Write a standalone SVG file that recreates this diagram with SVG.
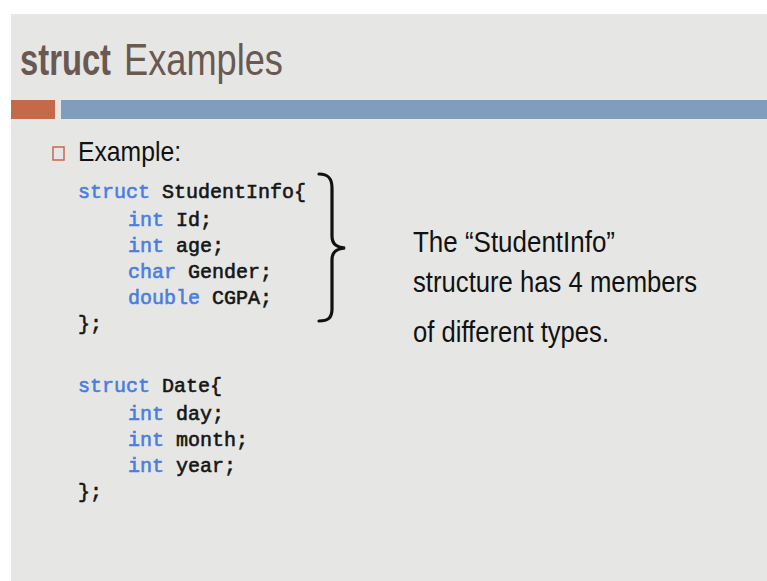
<svg xmlns="http://www.w3.org/2000/svg" width="767" height="581" viewBox="0 0 767 581">
<style>
.code{font-family:"Liberation Mono","Courier New",monospace;font-size:20px;fill:#161616;stroke:#161616;stroke-width:0.6}
.kw{fill:#4a7de3;stroke:#4a7de3}
.note{font-family:"Liberation Sans",Arial,sans-serif;font-size:30px;fill:#111}
.title{font-family:"Liberation Sans",Arial,sans-serif;font-size:44px;fill:#6a5852}
</style>
<rect x="0" y="0" width="767" height="581" fill="#ffffff"/>
<rect x="11" y="14" width="756" height="567" fill="#e6e7e4"/>
<g id="title">
<text class="title" transform="translate(20,75) scale(0.745,1)" x="0" y="0" font-weight="bold">struct</text>
<text class="title" transform="translate(124,75) scale(0.823,1)" x="0" y="0">Examples</text>
</g>
<g id="bars">
<rect x="11" y="100" width="44" height="19" fill="#c4694a"/>
<rect x="61" y="100" width="706" height="19" fill="#7f9ebb"/>
</g>
<g id="bullet">
<rect x="53" y="147" width="11" height="13" fill="none" stroke="#c8694a" stroke-width="1.5"/>
<text x="78" y="161" font-family="Liberation Sans,Arial,sans-serif" font-size="28" fill="#111" textLength="103" lengthAdjust="spacingAndGlyphs">Example:</text>
</g>
<g id="code1">
<text class="code" x="78" y="198"><tspan class="kw">struct</tspan> StudentInfo{</text>
<text class="code" x="128" y="226"><tspan class="kw">int</tspan> Id;</text>
<text class="code" x="128" y="252"><tspan class="kw">int</tspan> age;</text>
<text class="code" x="128" y="278"><tspan class="kw">char</tspan> Gender;</text>
<text class="code" x="128" y="304"><tspan class="kw">double</tspan> CGPA;</text>
<text class="code" x="78" y="330">};</text>
</g>
<g id="code2">
<text class="code" x="78" y="392"><tspan class="kw">struct</tspan> Date{</text>
<text class="code" x="128" y="420"><tspan class="kw">int</tspan> day;</text>
<text class="code" x="128" y="446"><tspan class="kw">int</tspan> month;</text>
<text class="code" x="128" y="472"><tspan class="kw">int</tspan> year;</text>
<text class="code" x="78" y="498">};</text>
</g>
<g id="brace">
<path d="M319,174 C328,174 332,178 332,188 L332,236 C332,244 336,247 345,248 C336,249 332,252 332,260 L332,309 C332,318 328,321 319,321" fill="none" stroke="#111" stroke-width="3.2" stroke-linecap="round"/>
</g>
<g id="note">
<text class="note" x="413" y="252" textLength="202" lengthAdjust="spacingAndGlyphs">The “StudentInfo”</text>
<text class="note" x="413" y="292" textLength="284" lengthAdjust="spacingAndGlyphs">structure has 4 members</text>
<text class="note" x="413" y="342" textLength="196" lengthAdjust="spacingAndGlyphs">of different types.</text>
</g>
</svg>
